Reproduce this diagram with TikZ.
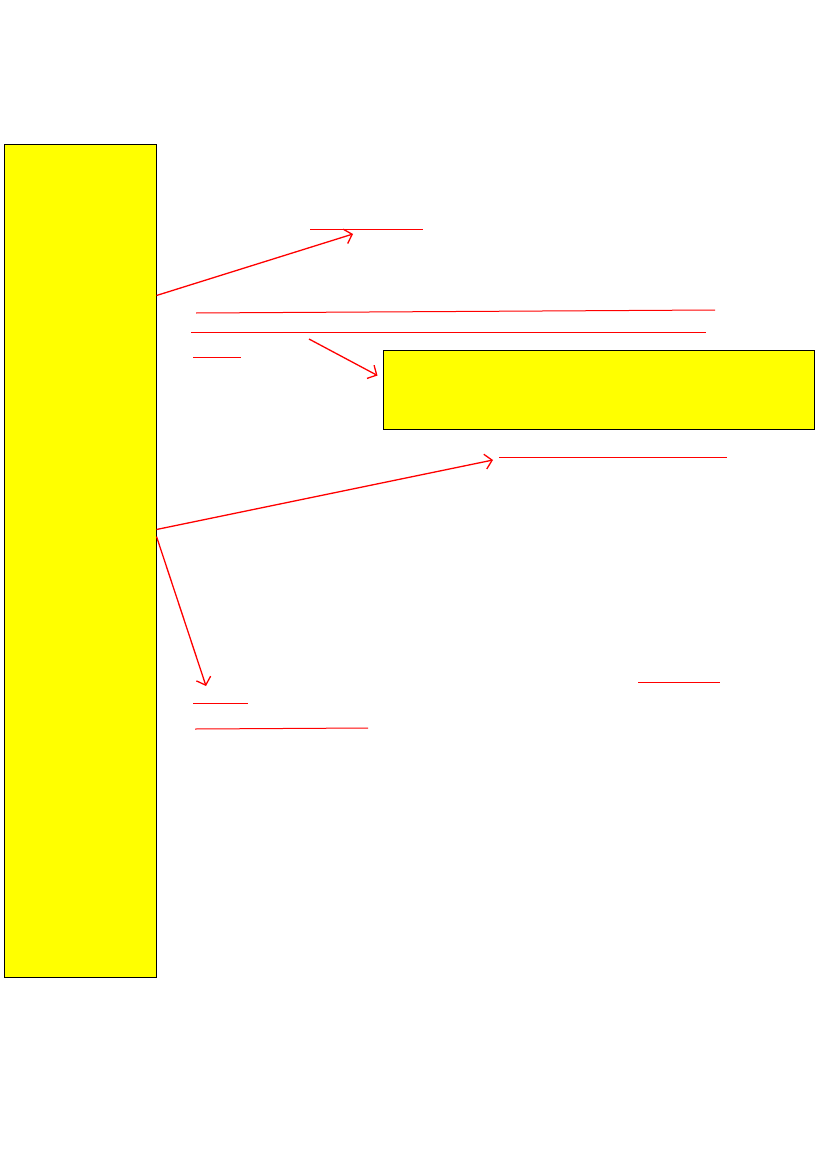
\documentclass[tikz,border=0pt]{standalone}
\usepackage{tikz}
\usepackage{xcolor}
\usetikzlibrary{arrows.meta, positioning, calc}
\definecolor{noteYellow}{RGB}{255, 255, 0}
\definecolor{linkRed}{RGB}{255, 0, 0}

\begin{document}
\begin{tikzpicture}[x=1pt, y=-1pt]
                \useasboundingbox (0,0) rectangle (827,1169);
                \node[fill=noteYellow, draw=black, line width=1pt, inner sep=0pt, minimum width=152pt, minimum height=832pt] (sidebox) at (80,561) {};
                \node[fill=noteYellow, draw=black, line width=1pt, inner sep=0pt, minimum width=431pt, minimum height=79pt] (notebox) at (598.5,389.5) {};
                % underlined spots
                \draw[linkRed, line width=1pt] (310,229) -- (423,229);
                \draw[linkRed, line width=1pt] (196,313) -- (715,310);
                \draw[linkRed, line width=1pt] (191,332) -- (706,332);
                \draw[linkRed, line width=1pt] (193,357) -- (241,357);
                \draw[linkRed, line width=1pt] (499,457) -- (727,457);
                \draw[linkRed, line width=1pt] (638,682) -- (720,682);
                \draw[linkRed, line width=1pt] (193,703) -- (248,703);
                \draw[linkRed, line width=1pt] (195,729) -- (368,728);
                % arrow ends
                \coordinate (top) at (353,234);
                \coordinate (mid) at (493,460);
                \coordinate (low) at (206,686);
                \coordinate (ref) at (309,339);
                \draw[linkRed, line width=1.3pt, -{Straight Barb[length=7pt, width=15pt]}] ($(sidebox.north east)+(0,151)$) -- (top);
                \draw[linkRed, line width=1.3pt, -{Straight Barb[length=7pt, width=15pt]}] ($(sidebox.north east)+(0,385)$) -- (mid);
                \draw[linkRed, line width=1.3pt, -{Straight Barb[length=7pt, width=15pt]}] ($(sidebox.north east)+(0,392)$) -- (low);
                \draw[linkRed, line width=1.3pt, -{Straight Barb[length=7pt, width=15pt]}] (ref) -- ($(notebox.north west)+(-5,26)$);
            \end{tikzpicture}
\end{document}
